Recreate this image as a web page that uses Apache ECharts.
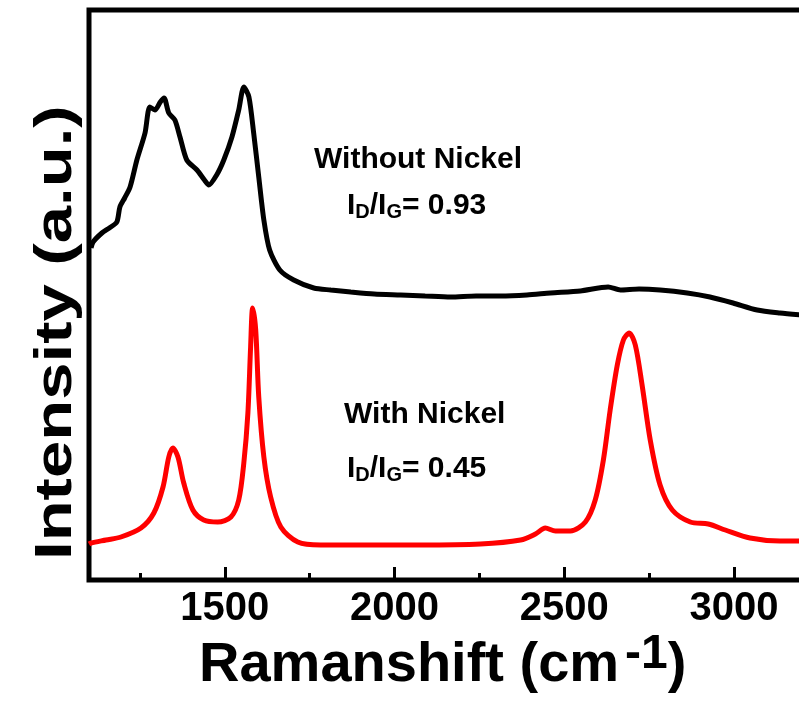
<!DOCTYPE html>
<html>
<head>
<meta charset="utf-8">
<script src="https://cdn.jsdelivr.net/npm/echarts@6/dist/echarts.min.js"></script>
<style>
html, body { margin: 0; padding: 0; background: #fff; }
#main { width: 799px; height: 702px; }
</style>
</head>
<body>
<div id="main"></div>
<script>
// Raman spectra (intensity in arbitrary units)
var shiftNoNi = [1106, 1112, 1138, 1160, 1182, 1191, 1205, 1221, 1241, 1265, 1279, 1294, 1310, 1321, 1335, 1353, 1368, 1388, 1418, 1440, 1453, 1476, 1497, 1521, 1541, 1556, 1571, 1585, 1600, 1615, 1632, 1662, 1703, 1762, 1812, 1871, 1940, 2018, 2090, 2165, 2240, 2312, 2390, 2459, 2547, 2629, 2665, 2720, 2782, 2862, 2929, 2997, 3068, 3135, 3200];
var intNoNi   = [332, 338, 347, 352, 358, 373, 382, 393, 420, 447, 473, 470, 478, 482, 467, 460, 443, 420, 410, 400, 395, 405, 420, 443, 470, 493, 483, 447, 403, 360, 330, 310, 300, 292, 290, 288, 286, 285, 284, 283, 284, 284, 285, 287, 289, 293, 290, 291, 290, 287, 283, 277, 270, 267, 265];

var shiftNi = [1100, 1106, 1150, 1194, 1253, 1291, 1318, 1335, 1347, 1362, 1379, 1406, 1438, 1479, 1518, 1541, 1556, 1568, 1576, 1582, 1591, 1600, 1615, 1635, 1665, 1715, 1782, 1900, 2076, 2253, 2371, 2415, 2444, 2474, 2518, 2562, 2591, 2615, 2635, 2656, 2674, 2691, 2709, 2729, 2753, 2782, 2818, 2871, 2924, 2974, 3047, 3135, 3200];
var intNi   = [36, 37, 40, 43, 52, 67, 93, 123, 132, 123, 97, 70, 60, 58, 63, 80, 117, 167, 233, 272, 250, 183, 123, 83, 53, 38, 35, 35, 35, 36, 40, 46, 52, 49, 49, 58, 80, 120, 170, 215, 240, 247, 235, 195, 140, 95, 70, 58, 56, 50, 42, 39, 39];

var majorTicks = [1500, 2000, 2500, 3000];
var minorTicks = [1250, 1750, 2250, 2750];

var fontFam = '"Liberation Sans", Arial, sans-serif';

function pairs(xs, ys) {
    var out = [];
    for (var i = 0; i < xs.length; i++) {
        out.push([xs[i], ys[i]]);
    }
    return out;
}

var chart = echarts.init(document.getElementById('main'));
chart.setOption({
    backgroundColor: '#fff',
    animation: false,
    grid: {
        left: 89,
        top: 10,
        right: -3,
        bottom: 122,
        outerBoundsMode: 'none',
        show: true,
        borderColor: '#000',
        borderWidth: 5
    },
    xAxis: [
        {
            type: 'value',
            min: 1100,
            max: 3200,
            position: 'bottom',
            axisLine: {show: false},
            splitLine: {show: false},
            axisTick: {
                inside: true,
                length: 13,
                customValues: majorTicks,
                lineStyle: {color: '#000', width: 3}
            },
            axisLabel: {
                customValues: majorTicks,
                formatter: function (v) { return String(v); },
                margin: 9,
                color: '#000',
                fontSize: 40,
                fontWeight: 'bold',
                fontFamily: fontFam
            }
        },
        {
            type: 'value',
            min: 1100,
            max: 3200,
            position: 'bottom',
            offset: 0,
            axisLine: {show: false},
            splitLine: {show: false},
            axisLabel: {show: false},
            axisTick: {
                inside: true,
                length: 7,
                customValues: minorTicks,
                lineStyle: {color: '#000', width: 3}
            }
        }
    ],
    yAxis: {
        type: 'value',
        min: 0,
        max: 570,
        show: false
    },
    series: [
        {
            name: 'Without Nickel',
            type: 'line',
            data: pairs(shiftNoNi, intNoNi),
            showSymbol: false,
            smooth: 0.25,
            lineStyle: {color: '#000', width: 5}
        },
        {
            name: 'With Nickel',
            type: 'line',
            data: pairs(shiftNi, intNi),
            showSymbol: false,
            smooth: 0.3,
            lineStyle: {color: '#ff0000', width: 5}
        }
    ],
    graphic: [
        {
            type: 'text',
            left: 314,
            top: 145,
            style: {
                text: 'Without Nickel',
                font: 'bold 30px ' + fontFam,
                fill: '#000'
            }
        },
        {
            type: 'text',
            left: 347,
            top: 191,
            style: {
                text: 'I{s|D}/I{s|G}= 0.93',
                font: 'bold 30px ' + fontFam,
                fill: '#000',
                rich: {
                    s: {font: 'bold 20px ' + fontFam, fill: '#000', padding: [13, 0, 0, 0]}
                }
            }
        },
        {
            type: 'text',
            left: 344,
            top: 400,
            style: {
                text: 'With Nickel',
                font: 'bold 30px ' + fontFam,
                fill: '#000'
            }
        },
        {
            type: 'text',
            left: 347,
            top: 454,
            style: {
                text: 'I{s|D}/I{s|G}= 0.45',
                font: 'bold 30px ' + fontFam,
                fill: '#000',
                rich: {
                    s: {font: 'bold 20px ' + fontFam, fill: '#000', padding: [13, 0, 0, 0]}
                }
            }
        },
        {
            // x axis title
            type: 'text',
            left: 199,
            top: 631,
            style: {
                text: 'Ramanshift (cm{sup|-1})',
                font: 'bold 56px ' + fontFam,
                fill: '#000',
                rich: {
                    sup: {font: 'bold 48px ' + fontFam, fill: '#000', padding: [0, 0, 22, 6]}
                }
            }
        },
        {
            // y axis title
            type: 'text',
            x: 31,
            y: 560,
            rotation: Math.PI / 2,
            scaleX: 1.29,
            style: {
                text: 'Intensity (a.u.)',
                font: 'bold 52px ' + fontFam,
                fill: '#000',
                verticalAlign: 'top'
            }
        }
    ]
});
</script>
</body>
</html>
